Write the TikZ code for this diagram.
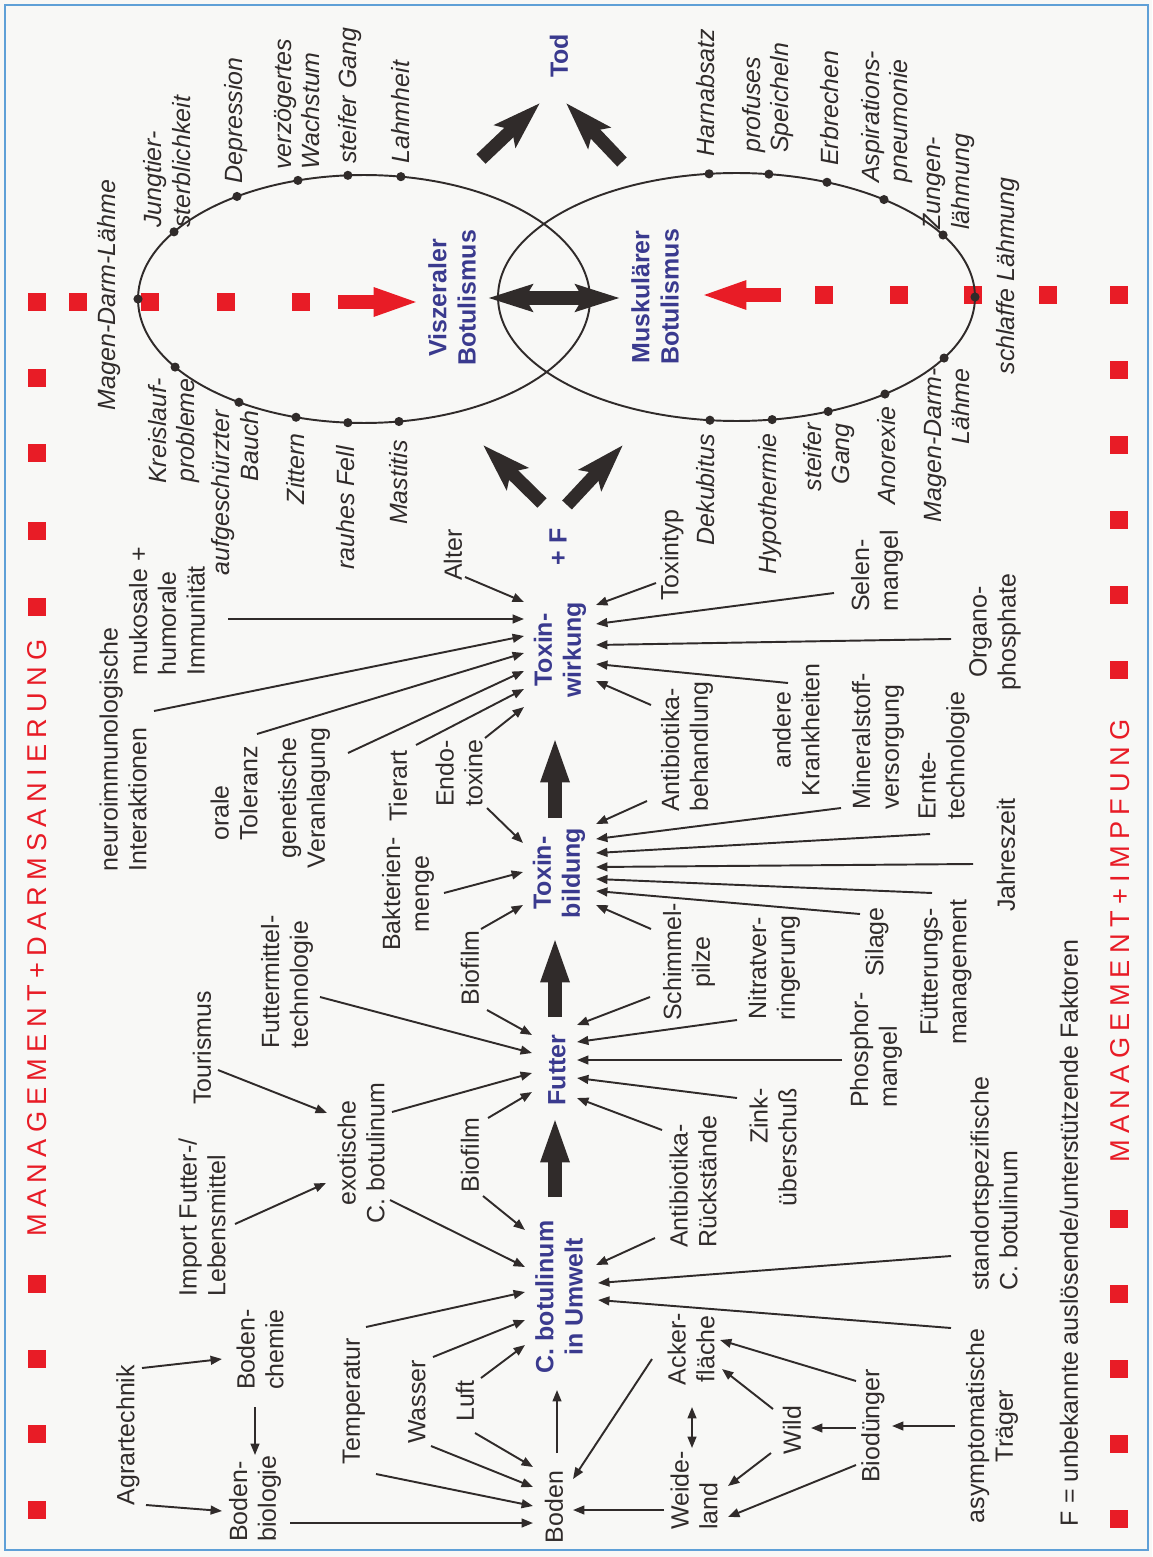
\documentclass[tikz,border=0pt]{standalone}
\usepackage{fontspec}
\setmainfont{Liberation Sans}
\usetikzlibrary{arrows.meta}
\definecolor{ink}{RGB}{48,43,42}
\definecolor{navy}{RGB}{58,58,142}
\definecolor{mred}{RGB}{232,28,38}
\definecolor{paper}{RGB}{248,248,246}
\definecolor{frameblue}{RGB}{95,160,215}
\def\spacedcaps#1{\ifx#1\relax\unkern\else#1\kern.23em\expandafter\spacedcaps\fi}
\begin{document}
\begin{tikzpicture}[x=0.02cm,y=-0.02cm,
  lbl/.style={rotate=90, inner sep=0pt, text=ink, font=\fontsize{14.2}{16.4}\selectfont},
  sym/.style={lbl, font=\fontsize{14.2}{16.4}\selectfont\itshape},
  key/.style={lbl, text=navy, font=\fontsize{14.2}{16.6}\selectfont\bfseries},
  mgmt/.style={rotate=90, inner sep=0pt, text=mred, font=\fontsize{15.5}{18}\selectfont},
  arr/.style={draw=ink, line width=1.1pt, -{Triangle[length=6.5pt,width=5pt]}},
  dblarr/.style={draw=ink, line width=1.1pt, {Triangle[length=6.5pt,width=5pt]}-{Triangle[length=6.5pt,width=5pt]}},
  fat/.style={draw=ink, line width=8.5pt, -{Triangle[length=27pt,width=14.5pt]}},
  redfat/.style={draw=mred, line width=8pt, -{Triangle[length=27pt,width=14.5pt]}},
  big/.style={draw=ink, line width=7.5pt, -{Stealth[length=27pt,width=17pt,inset=5pt]}},
  bigdbl/.style={draw=ink, line width=8pt, {Stealth[length=25pt,width=15pt,inset=4pt]}-{Stealth[length=25pt,width=15pt,inset=4pt]}},
  dot/.style={fill=ink}]
% paper and frame
\fill[paper] (0,0) rectangle (1152,1557);
\draw[frameblue, line width=1pt] (5,5) rectangle (1148,1550);

% red square rows
\foreach \y in {302,378,453,531,607,1284,1359,1434,1510}
  \fill[mred] (28,\y-9) rectangle ++(18,18);
\foreach \x in {78,150,226,301}
  \fill[mred] (\x-9,293) rectangle ++(18,18);
\foreach \x in {824,899,973,1048}
  \fill[mred] (\x-9,286) rectangle ++(18,18);
\foreach \y in {295,370,445,520,595,670,1219,1294,1369,1444,1519}
  \fill[mred] (1110,\y-9) rectangle ++(18,18);

% ellipses
\draw[ink, line width=1.1pt] (364,299) ellipse [x radius=4.52cm, y radius=2.48cm];
\draw[ink, line width=1.1pt] (736.5,297) ellipse [x radius=4.77cm, y radius=2.48cm];
\foreach \a in {-80.6,-94.1,-107,-124.2,-147.2,180,146.7,123.6,107.5,94.1,81.1}
  \fill[dot] (364,299) ++(\a:226 and 124) circle[radius=2.6pt];
\foreach \a in {-96.6,-82.2,-67.7,-51.8,-30,0,29.5,51.5,67.4,81.4,96.4}
  \fill[dot] (736.5,297) ++(\a:238.5 and 124) circle[radius=2.6pt];

% red arrows
\coordinate (r1s) at (338,302); \coordinate (r1e) at (421,302);
\coordinate (r2s) at (781,295); \coordinate (r2e) at (699,295);
\draw[redfat] (r1s) -- (r1e);
\draw[redfat] (r2s) -- (r2e);

% management texts
\node[mgmt] (mgl) at (37,938) {\spacedcaps MANAGEMENT+DARMSANIERUNG\relax};
\node[mgmt] (mgr) at (1120,941) {\spacedcaps MANAGEMENT+IMPFUNG\relax};
\node[lbl] (fnote) at (1069,1233) {F = unbekannte auslösende/unterstützende Faktoren};

% symptoms, left ellipse
\node[sym] (sMDL) at (109,295) {Magen-Darm-Lähme};
\node[sym, align=left, anchor=west] (sJung) at (167,228) {Jungtier-\\sterblichkeit};
\node[sym, anchor=west] (sDep) at (236,184) {Depression};
\node[sym, align=left, anchor=west] (sVerz) at (297,170) {verzögertes\\Wachstum};
\node[sym, anchor=west] (sSteif) at (350,164) {steifer Gang};
\node[sym, anchor=west] (sLahm) at (401,164) {Lahmheit};
\node[sym, align=right, anchor=east] (sKreis) at (174,378) {Kreislauf-\\probleme};
\node[sym, align=right, anchor=east] (sAuf) at (235,410) {aufgeschürzter\\Bauch};
\node[sym, anchor=east] (sZit) at (296,433) {Zittern};
\node[sym, anchor=east] (sRau) at (346,446) {rauhes Fell};
\node[sym, anchor=east] (sMast) at (399,440) {Mastitis};
% symptoms, right ellipse
\node[sym, anchor=west] (sHarn) at (706,157) {Harnabsatz};
\node[sym, align=left, anchor=west] (sProf) at (768,153) {profuses\\Speicheln};
\node[sym, anchor=west] (sErb) at (830,166) {Erbrechen};
\node[sym, align=left, anchor=west] (sAsp) at (887,183) {Aspirations-\\pneumonie};
\node[sym, align=left, anchor=west] (sZung) at (949,230) {Zungen-\\lähmung};
\node[sym] (sSchl) at (1008,276) {schlaffe Lähmung};
\node[sym, anchor=east] (sDek) at (706,434) {Dekubitus};
\node[sym, anchor=east] (sHypo) at (770,433) {Hypothermie};
\node[sym, align=right, anchor=east] (sSteifB) at (829,423) {steifer\\Gang};
\node[sym, anchor=east] (sAno) at (887,406) {Anorexie};
\node[sym, align=right, anchor=east] (sMDLB) at (947,368) {Magen-Darm-\\Lähme};

% key nodes
\node[key] (tod) at (559,56) {Tod};
\node[key, align=center] (visz) at (452,298) {Viszeraler\\Botulismus};
\node[key, align=center] (musk) at (655,297) {Muskulärer\\Botulismus};
\node[key] (pf) at (558,547) {+ F};
\node[key, align=center] (tw) at (560,650) {Toxin-\\wirkung};
\node[key, align=center] (tb) at (559,873) {Toxin-\\bildung};
\node[key] (fu) at (557,1070) {Futter};
\node[key, align=center] (cb) at (559,1297) {C. botulinum\\in Umwelt};

% factor labels
\node[lbl] (alter) at (453,555) {Alter};
\node[lbl, align=left, anchor=west] (immun) at (167,676) {mukosale +\\humorale\\Immunität};
\node[lbl, align=left, anchor=west] (neuro) at (123,872) {neuroimmunologische\\Interaktionen};
\node[lbl, align=left, anchor=west] (orale) at (234,841) {orale\\Toleranz};
\node[lbl, align=center] (genet) at (304,798) {genetische\\Veranlagung};
\node[lbl] (tierart) at (398,786) {Tierart};
\node[lbl, align=center] (bakt) at (408,894) {Bakterien-\\menge};
\node[lbl, align=left, anchor=west] (endo) at (459,807) {Endo-\\toxine};
\node[lbl] (biofA) at (470,968) {Biofilm};
\node[lbl, align=left, anchor=west] (fmt) at (287,1049) {Futtermittel-\\technologie};
\node[lbl] (tour) at (202,1048) {Tourismus};
\node[lbl, align=center] (exo) at (361,1153) {exotische\\C. botulinum};
\node[lbl] (biofB) at (470,1155) {Biofilm};
\node[lbl, align=left, anchor=west] (import) at (202,1297) {Import Futter-/\\Lebensmittel};
\node[lbl] (agrar) at (128,1435) {Agrartechnik};
\node[lbl, align=left, anchor=west] (bchem) at (260,1390) {Boden-\\chemie};
\node[lbl, align=left, anchor=west] (bbio) at (255,1542) {Boden-\\biologie};
\node[lbl] (temp) at (354,1401) {Temperatur};
\node[lbl] (wasser) at (417,1402) {Wasser};
\node[lbl] (luft) at (465,1401) {Luft};
\node[lbl] (boden) at (554,1507) {Boden};
\node[lbl] (toxtyp) at (672,555) {Toxintyp};
\node[lbl, align=left, anchor=west] (selen) at (877,612) {Selen-\\mangel};
\node[lbl, align=center] (organo) at (995,632) {Organo-\\phosphate};
\node[lbl, align=center] (andere) at (796,730) {andere\\Krankheiten};
\node[lbl, align=left, anchor=west] (antib) at (687,812) {Antibiotika-\\behandlung};
\node[lbl, align=left, anchor=west] (mineral) at (878,810) {Mineralstoff-\\versorgung};
\node[lbl, align=left, anchor=west] (ernte) at (944,820) {Ernte-\\technologie};
\node[lbl] (jahr) at (1006,855) {Jahreszeit};
\node[lbl, align=center] (schim) at (689,962) {Schimmel-\\pilze};
\node[lbl] (silage) at (877,942) {Silage};
\node[lbl, align=center] (fuett) at (946,972) {Fütterungs-\\management};
\node[lbl, align=center] (nitrat) at (774,968) {Nitratver-\\ringerung};
\node[lbl, align=left, anchor=west] (phos) at (876,1108) {Phosphor-\\mangel};
\node[lbl, align=right, anchor=east] (zink) at (773,1088) {Zink-\\überschuß};
\node[lbl, align=left, anchor=west] (antir) at (693,1248) {Antibiotika-\\Rückstände};
\node[lbl, align=left, anchor=west] (stand) at (994,1291) {standortspezifische\\C. botulinum};
\node[lbl, align=center] (asym) at (992,1426) {asymptomatische\\Träger};
\node[lbl] (biod) at (873,1426) {Biodünger};
\node[lbl] (wild) at (792,1430) {Wild};
\node[lbl, align=center] (acker) at (691,1349) {Acker-\\fläche};
\node[lbl, align=left, anchor=west] (weide) at (694,1530) {Weide-\\land};

% thin connectors: name/tail x/tail y/tip x/tip y
\foreach \n/\xa/\ya/\xb/\yb in {
  a1/465/577/524/602, a2/228/619/524/619, a3/154/711/524/636, a4/257/734/524/653,
  a5/348/753/524/671, a6/416/745/524/689, a7/485/738/524/707,
  b1/656/583/596/605, b2/834/593/596/624, b3/951/639/596/645, b4/788/683/596/664,
  b5/651/705/596/681,
  c1/487/808/523/843, c2/444/893/523/872, c3/481/929/523/905,
  d1/647/801/596/824, d2/841/808/596/839, d3/930/834/596/853, d4/973/864/596/867,
  d5/932/893/596/879, d6/860/914/596/891, d7/651/929/596/905,
  e1/487/1010/532/1035, e2/320/997/532/1053, e3/392/1112/532/1073, e4/488/1118/532/1092,
  f1/650/997/577/1025, f2/737/1020/577/1042, f3/842/1060/577/1060, f4/737/1098/577/1078,
  f5/662/1130/577/1098,
  g1/218/1070/327/1113, g2/235/1224/326/1183,
  h1/483/1196/525/1230, h2/390/1200/525/1267, h3/366/1327/525/1292, h4/433/1357/525/1320,
  h5/481/1378/525/1345, h6/557/1453/557/1390,
  i1/655/1238/596/1265, i2/951/1256/598/1283, i3/951/1328/598/1300,
  j1/475/1433/533/1467, j2/431/1446/533/1487, j3/376/1474/533/1506, j4/290/1523/533/1523,
  j5/652/1359/573/1479, j6/664/1510/573/1510,
  k1/142/1368/222/1359, k2/146/1505/222/1511, k3/255/1407/255/1455,
  l1/955/1426/892/1426, l2/856/1428/811/1428, l3/856/1381/720/1340, l4/856/1465/728/1517,
  l5/773/1409/722/1369, l6/771/1453/728/1486}
{
  \coordinate (\n-s) at (\xa,\ya);
  \coordinate (\n-e) at (\xb,\yb);
  \draw[arr] (\n-s) -- (\n-e);
}
\coordinate (l7-s) at (692,1407); \coordinate (l7-e) at (692,1448);
\draw[dblarr] (l7-s) -- (l7-e);

% thick vertical arrows
\foreach \n/\ya/\yb in {m1/1197/1115, m2/1017/935, m3/818/735}
{
  \coordinate (\n-s) at (555,\ya);
  \coordinate (\n-e) at (555,\yb);
  \draw[fat] (\n-s) -- (\n-e);
}
% big diagonal arrows
\foreach \n/\xa/\ya/\xb/\yb in {n1/542/503/483/445, n2/567/505/623/445, n3/481/159/540/103, n4/622/162/566/103}
{
  \coordinate (\n-s) at (\xa,\ya);
  \coordinate (\n-e) at (\xb,\yb);
  \draw[big] (\n-s) -- (\n-e);
}
\coordinate (dd-s) at (488,298); \coordinate (dd-e) at (620,298);
\draw[bigdbl] (dd-s) -- (dd-e);
\end{tikzpicture}
\end{document}
